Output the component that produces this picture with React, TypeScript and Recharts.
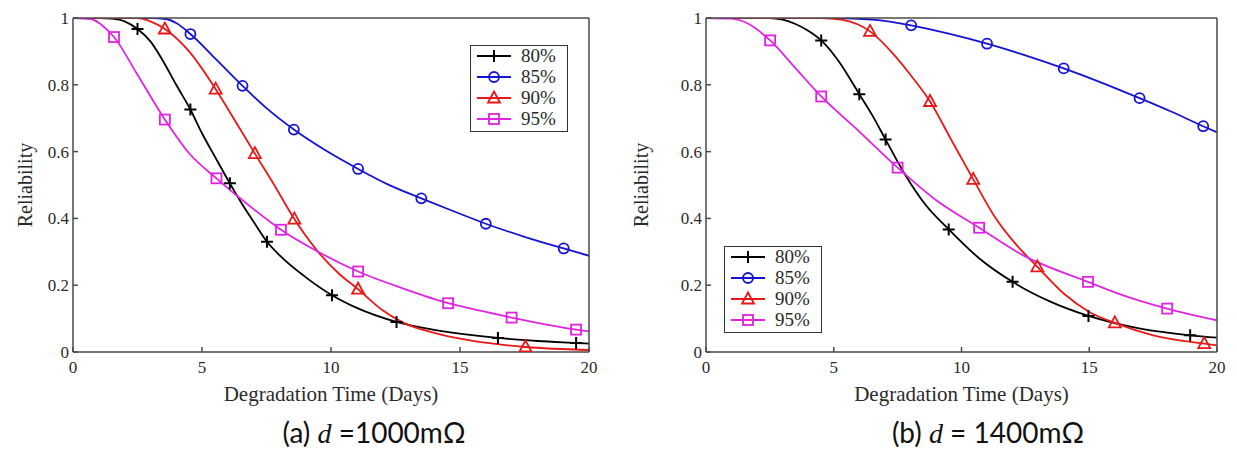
import React from 'react'
import { LineChart, Line, XAxis, YAxis, Legend } from 'recharts'

// [days, reliability, marker?]
type Row = [number, number, number?]

const xTicks = [0, 5, 10, 15, 20]
const yTicks = [0, 0.2, 0.4, 0.6, 0.8, 1]
const seriesNames = ['80%', '85%', '90%', '95%']

// (a) d = 1000 mOhm
const a80: Row[] = [[0, 1], [1, 1], [1.5, 0.998], [2, 0.99], [2.5, 0.967, 1], [3, 0.93], [3.5, 0.87], [4, 0.8], [4.55, 0.726, 1], [5, 0.655], [5.5, 0.585], [6.08, 0.505, 1], [6.5, 0.45], [7, 0.39], [7.52, 0.33, 1], [8, 0.29], [9, 0.225], [10.04, 0.17, 1], [11, 0.132], [12.54, 0.09, 1], [14, 0.066], [16.47, 0.042, 1], [18, 0.033], [19.5, 0.027, 1], [20, 0.025]]
const a85: Row[] = [[0, 1], [3, 1], [3.6, 0.997], [4, 0.985], [4.55, 0.952, 1], [5.5, 0.88], [6.57, 0.797, 1], [7.5, 0.73], [8.56, 0.666, 1], [9.8, 0.603], [11.05, 0.548, 1], [12.2, 0.502], [13.5, 0.46, 1], [14.8, 0.42], [16, 0.384, 1], [17.5, 0.345], [19.02, 0.31, 1], [20, 0.288]]
const a90: Row[] = [[0, 1], [2.5, 1], [3, 0.99], [3.56, 0.967, 1], [4.5, 0.9], [5.53, 0.787, 1], [6.3, 0.69], [7.05, 0.594, 1], [7.8, 0.5], [8.58, 0.398, 1], [9.5, 0.3], [10.3, 0.235], [11.05, 0.188, 1], [12, 0.125], [12.8, 0.088], [14, 0.057], [15.5, 0.033], [17.54, 0.015, 1], [20, 0.006]]
const a95: Row[] = [[0, 1], [0.7, 0.997], [1.1, 0.98], [1.59, 0.943, 1], [2.5, 0.83], [3.56, 0.696, 1], [4.5, 0.595], [5.56, 0.52, 1], [6.8, 0.44], [8.06, 0.366, 1], [9.5, 0.3], [11.05, 0.241, 1], [12.8, 0.19], [14.54, 0.146, 1], [16, 0.12], [17, 0.103, 1], [18.3, 0.083], [19.5, 0.067, 1], [20, 0.062]]

// (b) d = 1400 mOhm
const b80: Row[] = [[0, 1], [2.5, 1], [3, 0.995], [3.5, 0.982], [4, 0.962], [4.51, 0.933, 1], [5.2, 0.87], [6, 0.772, 1], [6.5, 0.71], [7.03, 0.636, 1], [7.8, 0.53], [8.6, 0.44], [9.5, 0.367, 1], [10.7, 0.28], [12, 0.21, 1], [13.5, 0.15], [14.97, 0.108, 1], [17, 0.07], [18.95, 0.05, 1], [20, 0.043]]
const b85: Row[] = [[0, 1], [5, 1], [6.5, 0.995], [8.03, 0.978, 1], [9.5, 0.953], [11, 0.923, 1], [12.5, 0.888], [14, 0.849, 1], [15.5, 0.806], [16.97, 0.76, 1], [18.2, 0.72], [19.46, 0.676, 1], [20, 0.658]]
const b90: Row[] = [[0, 1], [4.5, 1], [5.3, 0.995], [6.42, 0.96, 1], [7.3, 0.895], [8, 0.83], [8.77, 0.75, 1], [9.6, 0.635], [10.46, 0.517, 1], [11.3, 0.405], [12.1, 0.325], [12.97, 0.255, 1], [14, 0.175], [15, 0.12], [16, 0.087, 1], [17.5, 0.05], [19.5, 0.025, 1], [20, 0.02]]
const b95: Row[] = [[0, 1], [1, 0.998], [1.6, 0.985], [2.51, 0.933, 1], [3.5, 0.85], [4.51, 0.765, 1], [6, 0.66], [7.5, 0.552, 1], [9, 0.455], [10.69, 0.372, 1], [12.4, 0.29], [14.95, 0.21, 1], [16.5, 0.165], [18.05, 0.13, 1], [20, 0.095]]

const COLORS = ['#000000', '#1414d2', '#e81818', '#e024e0']
const MARKS = ['plus', 'circle', 'triangle', 'square']
const SERIF = '"Liberation Serif", "Times New Roman", serif'
const AXIS = '#4a4a4a'
const TEXT = '#2a2a2a'

const toPts = (rows: Row[]) => rows.map(([x, y, m]) => ({ x, y, m: !!m }))

function Marker({ kind, cx, cy, color }: { kind: string; cx: number; cy: number; color: string }) {
  const sw = 1.8
  if (kind === 'plus')
    return <path d={`M${cx - 6},${cy}H${cx + 6}M${cx},${cy - 6}V${cy + 6}`} stroke={color} strokeWidth={2} fill="none" />
  if (kind === 'circle') return <circle cx={cx} cy={cy} r={5} stroke={color} strokeWidth={sw} fill="none" />
  if (kind === 'triangle')
    return <path d={`M${cx},${cy - 6.5}L${cx + 6},${cy + 4.5}L${cx - 6},${cy + 4.5}Z`} stroke={color} strokeWidth={sw} fill="none" />
  return <rect x={cx - 5} y={cy - 5} width={10} height={10} stroke={color} strokeWidth={sw} fill="none" />
}

function LegendBox() {
  return (
    <div style={{ border: '1.5px solid #333', background: '#fff', width: 98, height: 87, boxSizing: 'border-box' }}>
      <svg width={95} height={84} style={{ display: 'block' }}>
        {seriesNames.map((name, i) => {
          const y = 10 + i * 21
          return (
            <g key={name}>
              <line x1={6} x2={40} y1={y} y2={y} stroke={COLORS[i]} strokeWidth={2} />
              <Marker kind={MARKS[i]} cx={23} cy={y} color={COLORS[i]} />
              <text x={50} y={y + 6} fontFamily={SERIF} fontSize={19} fill={TEXT}>{name}</text>
            </g>
          )
        })}
      </svg>
    </div>
  )
}

type PanelProps = {
  left: number
  width: number
  yAxisW: number
  rightM: number
  series: Row[][]
  legendLeft: number
  legendTop: number
  yLabelOffset: number
}

function Panel({ left, width, yAxisW, rightM, series, legendLeft, legendTop, yLabelOffset }: PanelProps) {
  return (
    <div style={{ position: 'absolute', left, top: 0 }}>
      <LineChart width={width} height={408} margin={{ top: 17, right: rightM, bottom: 0, left: 0 }}>
        <XAxis
          xAxisId="b"
          type="number"
          dataKey="x"
          domain={[0, 20]}
          ticks={xTicks}
          allowDataOverflow
          height={56}
          tickSize={-5}
          tickMargin={14}
          stroke={AXIS}
          strokeWidth={1.5}
          tick={{ fill: TEXT, fontSize: 17, fontFamily: SERIF }}
          label={{ value: 'Degradation Time (Days)', position: 'insideBottom', offset: 7, fill: TEXT, fontSize: 21, fontFamily: SERIF }}
        />
        <XAxis xAxisId="t" orientation="top" type="number" domain={[0, 20]} ticks={xTicks} allowDataOverflow height={1} tickSize={-5} tick={false} stroke={AXIS} strokeWidth={1.5} />
        <YAxis
          yAxisId="l"
          type="number"
          domain={[0, 1]}
          ticks={yTicks}
          allowDataOverflow
          width={yAxisW}
          tickSize={-5}
          tickMargin={9}
          stroke={AXIS}
          strokeWidth={1.5}
          tickFormatter={(v: number) => String(v)}
          tick={{ fill: TEXT, fontSize: 17, fontFamily: SERIF }}
          label={{ value: 'Reliability', angle: -90, position: 'insideLeft', offset: yLabelOffset, fill: TEXT, fontSize: 20, fontFamily: SERIF, style: { textAnchor: 'middle' } }}
        />
        <YAxis yAxisId="r" orientation="right" type="number" domain={[0, 1]} ticks={yTicks} allowDataOverflow width={1} tickSize={-5} tick={false} stroke={AXIS} strokeWidth={1.5} />
        {series.map((rows, i) => (
          <Line
            key={seriesNames[i]}
            xAxisId="b"
            yAxisId="l"
            data={toPts(rows)}
            dataKey="y"
            name={seriesNames[i]}
            type="monotone"
            stroke={COLORS[i]}
            strokeWidth={1.8}
            isAnimationActive={false}
            activeDot={false}
            dot={(p: any) =>
              p.payload && p.payload.m ? (
                <Marker key={`m${i}-${p.index}`} kind={MARKS[i]} cx={p.cx} cy={p.cy} color={COLORS[i]} />
              ) : (
                <g key={`m${i}-${p.index}`} />
              )
            }
          />
        ))}
        <Legend
          layout="horizontal"
          verticalAlign="middle"
          align="center"
          content={() => <LegendBox />}
          wrapperStyle={{ position: 'absolute', left: legendLeft, top: legendTop, width: 'auto', height: 'auto', bottom: 'auto', right: 'auto' }}
        />
      </LineChart>
    </div>
  )
}

const captionStyle: React.CSSProperties = {
  position: 'absolute',
  top: 415,
  transform: 'translateX(-50%)',
  fontFamily: 'Lato, "Open Sans", sans-serif',
  fontSize: 28,
  lineHeight: '34px',
  color: '#111',
  whiteSpace: 'nowrap',
}

export default function App() {
  return (
    <div style={{ position: 'absolute', left: 0, top: 0, width: 1237, height: 457, background: '#fff', overflow: 'hidden' }}>
      <Panel left={0} width={600} yAxisW={73} rightM={10} series={[a80, a85, a90, a95]} legendLeft={470} legendTop={45} yLabelOffset={25} />
      <Panel left={620} width={617} yAxisW={86} rightM={19} series={[b80, b85, b90, b95]} legendLeft={104} legendTop={246} yLabelOffset={21} />
      <div style={{ ...captionStyle, left: 374 }}>
        (a) <span style={{ fontFamily: SERIF, fontStyle: 'italic' }}>d</span> =1000mΩ
      </div>
      <div style={{ ...captionStyle, left: 988 }}>
        (b) <span style={{ fontFamily: SERIF, fontStyle: 'italic' }}>d</span> = 1400mΩ
      </div>
    </div>
  )
}
